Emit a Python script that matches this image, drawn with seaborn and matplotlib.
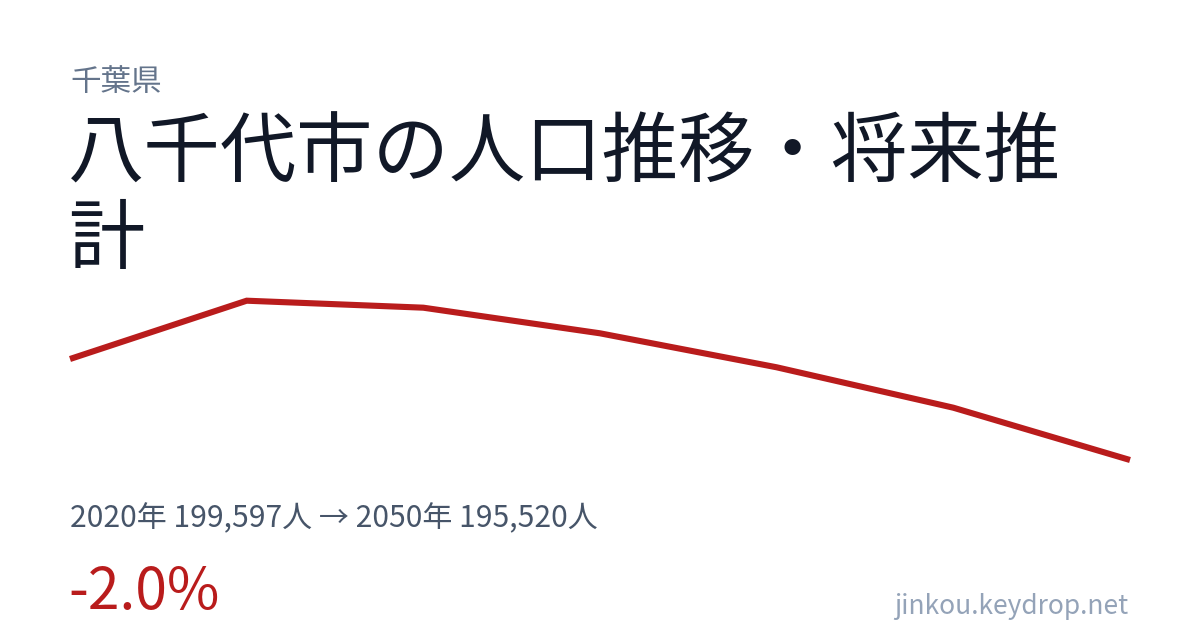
import matplotlib
matplotlib.use("Agg")
import matplotlib.pyplot as plt
import seaborn as sns
import pandas as pd

# Data
years = [2020, 2025, 2030, 2035, 2040, 2045, 2050]
population = [199597, 201950, 201668, 200634, 199262, 197631, 195520]
prefecture = "千葉県"
title_line1 = "八千代市の人口推移・将来推"
title_line2 = "計"
summary = "2020年 199,597人 → 2050年 195,520人"
change = "-2.0%"
site = "jinkou.keydrop.net"

sns.set_theme(style="white")
plt.rcParams["font.family"] = ["Noto Sans CJK JP", "DejaVu Sans"]

W, H = 1200, 630
fig = plt.figure(figsize=(W / 100, H / 100), dpi=100)
fig.patch.set_facecolor("white")

def fx(px):
    return px / W

def fy(py):
    return 1 - py / H

# Line axes: x from 70 to 1130 px, y from ~300.7 to 460 px
top_px, bot_px = 300.7, 460.0
ax = fig.add_axes([fx(70), fy(bot_px), fx(1130) - fx(70), (bot_px - top_px) / H])
df = pd.DataFrame({"year": years, "population": population})
sns.lineplot(data=df, x="year", y="population", ax=ax, color="#b91c1c",
             linewidth=4.4, solid_capstyle="butt", solid_joinstyle="miter")
for l in ax.lines:
    l.set_clip_on(False)
ax.set_xlim(min(years), max(years))
ax.set_ylim(min(population), max(population))
ax.axis("off")

# Texts
fig.text(fx(70), fy(91), prefecture, fontsize=22, color="#64748b", va="baseline", ha="left")
fig.text(fx(68), fy(177), title_line1, fontsize=55, color="#111827", va="baseline", ha="left")
fig.text(fx(68), fy(263), title_line2, fontsize=55, color="#111827", va="baseline", ha="left")
fig.text(fx(70), fy(527), summary, fontsize=21.6, color="#475569", va="baseline", ha="left")
fig.text(fx(68), fy(609), change, fontsize=41, color="#b91c1c", va="baseline", ha="left")
fig.text(fx(1128), fy(614), site, fontsize=19, color="#94a3b8", va="baseline", ha="right")

fig.savefig("out.png", dpi=100, facecolor="white")
